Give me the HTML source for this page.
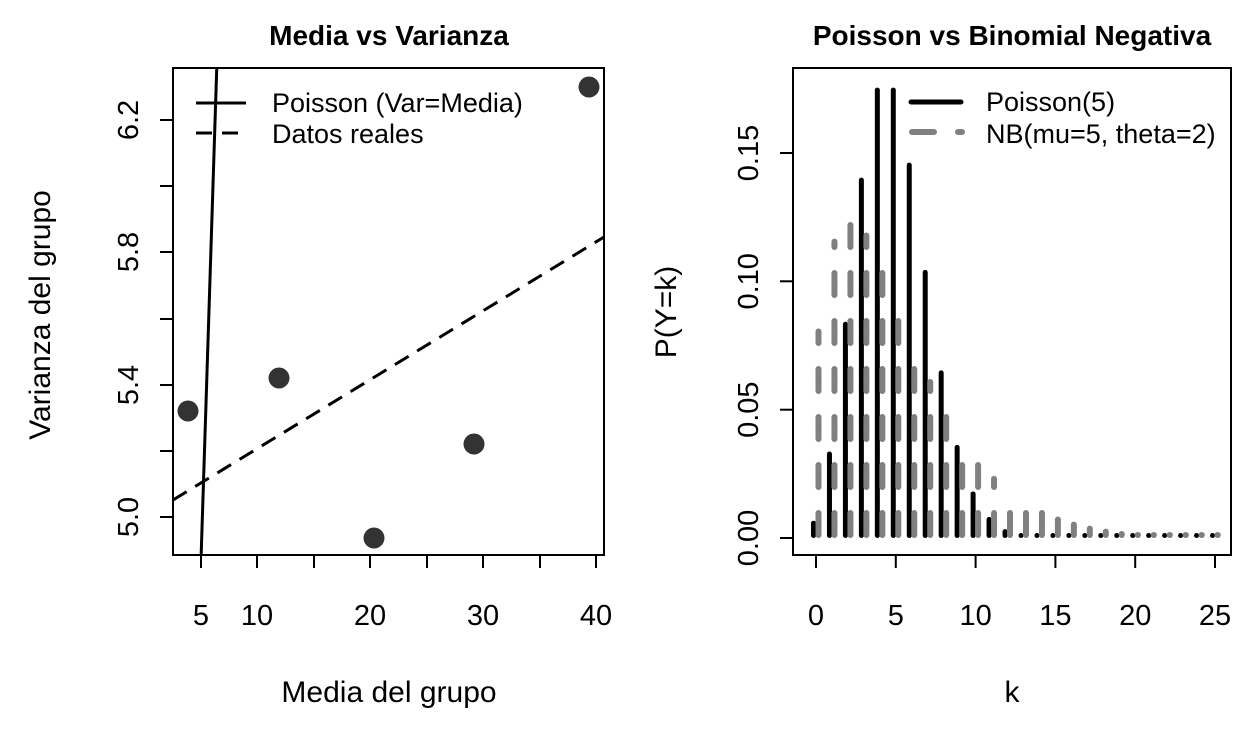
<!DOCTYPE html>
<html><head><meta charset="utf-8"><style>
html,body{margin:0;padding:0;background:#fff;}
svg text{font-family:"Liberation Sans",sans-serif;fill:#000;}
</style></head><body>
<svg id="s" width="1248" height="729" viewBox="0 0 1248 729" xmlns="http://www.w3.org/2000/svg">
<rect width="1248" height="729" fill="#fff"/>
<!-- LEFT PLOT -->
<text x="389" y="45" font-size="28" font-weight="bold" text-anchor="middle">Media vs Varianza</text>
<rect x="173" y="68" width="431" height="487" fill="none" stroke="#000" stroke-width="2"/>
<g stroke="#000" stroke-width="2">
<line x1="201" y1="555" x2="201" y2="568"/><line x1="257" y1="555" x2="257" y2="568"/><line x1="314" y1="555" x2="314" y2="568"/><line x1="370" y1="555" x2="370" y2="568"/><line x1="427" y1="555" x2="427" y2="568"/><line x1="483" y1="555" x2="483" y2="568"/><line x1="540" y1="555" x2="540" y2="568"/><line x1="596" y1="555" x2="596" y2="568"/>
<line x1="173" y1="517" x2="160" y2="517"/><line x1="173" y1="451" x2="160" y2="451"/><line x1="173" y1="385" x2="160" y2="385"/><line x1="173" y1="319" x2="160" y2="319"/><line x1="173" y1="252" x2="160" y2="252"/><line x1="173" y1="186" x2="160" y2="186"/><line x1="173" y1="120" x2="160" y2="120"/>
</g>
<g font-size="29" text-anchor="middle">
<text x="201" y="625">5</text><text x="257" y="625">10</text><text x="370" y="625">20</text><text x="483" y="625">30</text><text x="596" y="625">40</text>
<text transform="translate(138,517) rotate(-90)">5.0</text>
<text transform="translate(138,385) rotate(-90)">5.4</text>
<text transform="translate(138,252) rotate(-90)">5.8</text>
<text transform="translate(138,120) rotate(-90)">6.2</text>
</g>
<text x="389" y="702" font-size="30" text-anchor="middle">Media del grupo</text>
<text transform="translate(50,315) rotate(-90)" font-size="30" text-anchor="middle">Varianza del grupo</text>
<clipPath id="cl"><rect x="173" y="68" width="431" height="487"/></clipPath>
<g clip-path="url(#cl)">
<line x1="201" y1="560" x2="217" y2="60" stroke="#000" stroke-width="3"/>
<line x1="173" y1="500" x2="604" y2="237" stroke="#000" stroke-width="3" stroke-dasharray="16 10"/>
</g>
<g fill="#333">
<circle cx="188" cy="411" r="10.5"/><circle cx="279" cy="378" r="10.5"/><circle cx="374" cy="538" r="10.5"/><circle cx="474" cy="444" r="10.5"/><circle cx="589" cy="87" r="10.5"/>
</g>
<line x1="196" y1="103" x2="246" y2="103" stroke="#000" stroke-width="3"/>
<line x1="196" y1="133" x2="246" y2="133" stroke="#000" stroke-width="3" stroke-dasharray="16 10"/>
<text x="272" y="112" font-size="27">Poisson (Var=Media)</text>
<text x="272" y="143" font-size="27">Datos reales</text>
<!-- RIGHT PLOT -->
<text x="1012" y="45" font-size="28" font-weight="bold" text-anchor="middle">Poisson vs Binomial Negativa</text>
<rect x="793" y="68" width="438" height="487" fill="none" stroke="#000" stroke-width="2"/>
<g stroke="#000" stroke-width="2">
<line x1="816" y1="555" x2="816" y2="568"/><line x1="895.8" y1="555" x2="895.8" y2="568"/><line x1="975.6" y1="555" x2="975.6" y2="568"/><line x1="1055.4" y1="555" x2="1055.4" y2="568"/><line x1="1135.2" y1="555" x2="1135.2" y2="568"/><line x1="1215" y1="555" x2="1215" y2="568"/>
<line x1="793" y1="538" x2="780" y2="538"/><line x1="793" y1="409.7" x2="780" y2="409.7"/><line x1="793" y1="281.3" x2="780" y2="281.3"/><line x1="793" y1="153" x2="780" y2="153"/>
</g>
<g font-size="29" text-anchor="middle">
<text x="816" y="625">0</text><text x="895.8" y="625">5</text><text x="975.6" y="625">10</text><text x="1055.4" y="625">15</text><text x="1135.2" y="625">20</text><text x="1215" y="625">25</text>
<text transform="translate(758,538) rotate(-90)">0.00</text>
<text transform="translate(758,409.7) rotate(-90)">0.05</text>
<text transform="translate(758,281.3) rotate(-90)">0.10</text>
<text transform="translate(758,153) rotate(-90)">0.15</text>
</g>
<text x="1012" y="702" font-size="30" text-anchor="middle">k</text>
<text transform="translate(676,312) rotate(-90)" font-size="30" text-anchor="middle">P(Y=k)</text>
<g id="bars"></g>
<line x1="911" y1="102" x2="961" y2="102" stroke="#000" stroke-width="5" stroke-linecap="round"/>
<line x1="912" y1="132" x2="962" y2="132" stroke="#808080" stroke-width="6" stroke-dasharray="22 24" stroke-linecap="round"/>
<text x="986" y="111" font-size="27">Poisson(5)</text>
<text x="986" y="143" font-size="27">NB(mu=5, theta=2)</text>
</svg>
<script>
(function(){
var g=document.getElementById('bars'),h='';
var fact=1;
for(var k=0;k<=25;k++){
 if(k>0)fact*=k;
 var p=Math.exp(-5)*Math.pow(5,k)/fact;
 var nb=(k+1)*(4/49)*Math.pow(5/7,k);
 var x=816+15.96*k;
 var yb=538;
 var yp=yb-p*2567, yn=yb-nb*2567;
 h+='<line x1="'+(x-2.5)+'" y1="'+(yb-2.5)+'" x2="'+(x-2.5)+'" y2="'+Math.min(yp+2.5,yb-2.5)+'" stroke="#000" stroke-width="5" stroke-linecap="round"/>';
 h+='<line x1="'+(x+2.5)+'" y1="'+(yb-3)+'" x2="'+(x+2.5)+'" y2="'+Math.min(yn+3,yb-3)+'" stroke="#808080" stroke-width="6" stroke-linecap="round" stroke-dasharray="22 26"/>';
}
g.innerHTML=h;
})();
</script>
</body></html>
